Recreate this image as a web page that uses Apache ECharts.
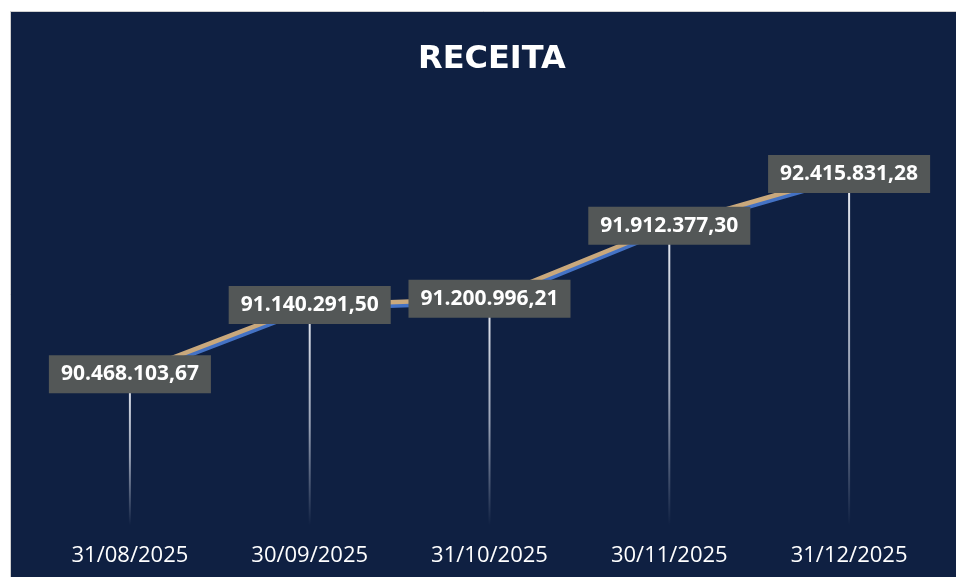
<!DOCTYPE html>
<html>
<head>
<meta charset="utf-8">
<script src="https://cdn.jsdelivr.net/npm/echarts@6/dist/echarts.min.js"></script>
<style>
html,body{margin:0;padding:0;background:#ffffff;}
#c{width:956px;height:577px;}
</style>
</head>
<body>
<div id="c"></div>
<script>
var categories = ['31/08/2025', '30/09/2025', '31/10/2025', '30/11/2025', '31/12/2025'];
var receita = [90468103.67, 91140291.50, 91200996.21, 91912377.30, 92415831.28];
var titleText = 'RECEITA';

function fmtBR(v) {
  var parts = v.toFixed(2).split('.');
  var intPart = parts[0].replace(/\B(?=(\d{3})+(?!\d))/g, '.');
  return intPart + ',' + parts[1];
}

var chart = echarts.init(document.getElementById('c'), null, {renderer: 'canvas'});
chart.setOption({
  animation: false,
  backgroundColor: '#ffffff',
  graphic: [{
    type: 'rect',
    z: -10,
    silent: true,
    shape: {x: 10.5, y: 11.5, width: 960, height: 580},
    style: {fill: '#0f2042', stroke: '#d0d0d0', lineWidth: 1}
  }],
  title: {
    text: titleText,
    left: 413,
    top: 39,
    textStyle: {color: '#ffffff', fontFamily: 'DejaVu Sans', fontWeight: 'bold', fontSize: 32}
  },
  grid: {left: 40, right: 17, top: 114, bottom: 52},
  xAxis: {
    type: 'category',
    data: categories,
    boundaryGap: true,
    axisLine: {show: false},
    axisTick: {show: false},
    axisLabel: {color: '#ffffff', fontFamily: 'Open Sans', fontSize: 22, margin: 20}
  },
  yAxis: {
    type: 'value',
    min: 89000000,
    max: 93000000,
    show: false,
    splitLine: {show: false}
  },
  series: [
    {
      type: 'bar',
      data: receita,
      barWidth: 2,
      z: 1,
      silent: true,
      itemStyle: {
        color: new echarts.graphic.LinearGradient(0, 0, 0, 1, [
          {offset: 0, color: 'rgba(235,238,245,1)'},
          {offset: 0.55, color: 'rgba(200,206,220,0.75)'},
          {offset: 1, color: 'rgba(200,206,220,0)'}
        ])
      }
    },
    {
      type: 'line',
      data: receita,
      z: 3,
      symbol: 'circle',
      symbolSize: 1,
      itemStyle: {color: 'rgba(0,0,0,0)'},
      lineStyle: {
        color: '#c9a87c',
        width: 4.5,
        shadowColor: '#4472c4',
        shadowBlur: 0,
        shadowOffsetX: 0.5,
        shadowOffsetY: 3.5
      },
      label: {
        show: true,
        position: 'inside',
        formatter: function (p) { return fmtBR(p.value); },
        color: '#ffffff',
        fontFamily: 'Open Sans',
        fontWeight: 'bold',
        fontSize: 21,
        backgroundColor: '#535757',
        padding: [6, 12, 5, 12],
        lineHeight: 27
      }
    }
  ]
});
</script>
</body>
</html>
